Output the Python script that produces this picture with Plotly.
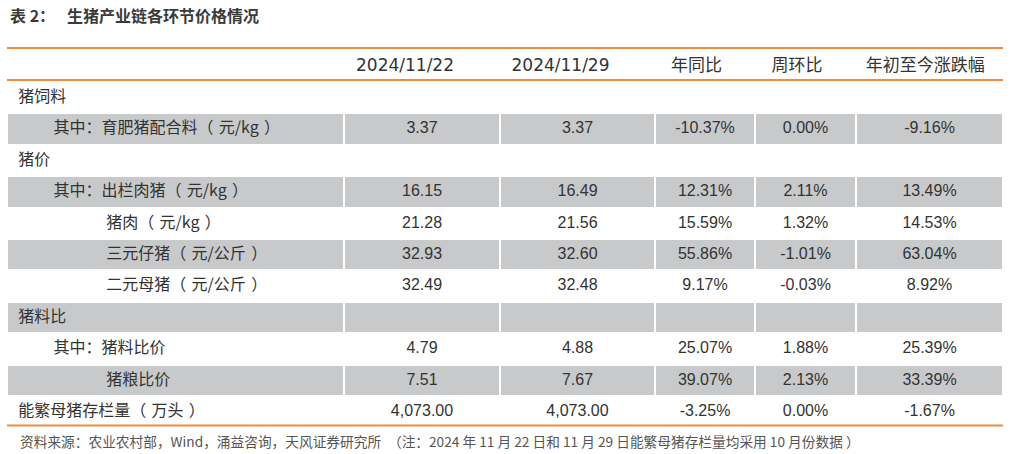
import plotly.graph_objects as go

# row labels (indent level: 0 = group, 1 = "其中：" item, 2 = sub item)
labels = ["猪饲料", "育肥猪配合料（元/kg）", "猪价", "出栏肉猪（元/kg）", "猪肉（元/kg）",
          "三元仔猪（元/公斤）", "二元母猪（元/公斤）", "猪料比", "猪料比价", "猪粮比价",
          "能繁母猪存栏量（万头）"]
levels = [0, 1, 0, 1, 2, 2, 2, 0, 1, 2, 0]

price_1122 = [None, 3.37, None, 16.15, 21.28, 32.93, 32.49, None, 4.79, 7.51, 4073.00]
price_1129 = [None, 3.37, None, 16.49, 21.56, 32.60, 32.48, None, 4.88, 7.67, 4073.00]
yoy = [None, -10.37, None, 12.31, 15.59, 55.86, 9.17, None, 25.07, 39.07, -3.25]
wow = [None, 0.00, None, 2.11, 1.32, -1.01, -0.03, None, 1.88, 2.13, 0.00]
ytd = [None, -9.16, None, 13.49, 14.53, 63.04, 8.92, None, 25.39, 33.39, -1.67]

headers = ["", "2024/11/22", "2024/11/29", "年同比", "周环比", "年初至今涨跌幅"]

W, H = 1011, 454
GREY = "#C8C9CB"
ORANGE = "#EF8B3C"
TXT = "#333333"


def fmt_num(v):
    return "" if v is None else f"{v:,.2f}"


def fmt_pct(v):
    return "" if v is None else f"{v:.2f}%"


def label_text(name, lvl):
    # the source leaves a little air inside the full-width brackets
    name = name.replace("（", "（\u2004").replace("）", "\u2004）")
    if lvl == 0:
        return "\u2009" + name
    if lvl == 1:
        return "\u3000\u3000\u2009\u2009其中：" + name
    return "\u3000\u3000\u3000\u3000\u3000\u2002\u2009" + name


col_label = [label_text(n, l) for n, l in zip(labels, levels)]
row_fill = [GREY if i % 2 == 1 else "white" for i in range(len(labels))]

# table geometry in pixels
left, right = 7, 1003
top, header_h, row_h = 48, 32, 31.4
bottom = top + header_h + row_h * len(labels)
shift = 2  # text sits a touch lower in the source
col_edges = [7, 344, 500, 655, 755, 856, 1003]
col_widths = [b - a for a, b in zip(col_edges[:-1], col_edges[1:])]

# header text is set slightly left of the cell centre in the source
header_txt = [headers[0]] + [h + pad for h, pad in zip(headers[1:],
              ["\u2003\u2003", "\u2003\u2003", "\u2003", "\u2003", "\u2002"])]

fig = go.Figure(go.Table(
    domain=dict(x=[left / W, right / W],
                y=[1 - (bottom + shift) / H, 1 - (top + shift) / H]),
    columnwidth=col_widths,
    header=dict(
        values=header_txt,
        height=header_h,
        align="center",
        fill_color="white",
        line=dict(color="white", width=1),
        font=dict(family="DejaVu Sans, Noto Sans CJK SC", size=17, color=TXT),
    ),
    cells=dict(
        values=[col_label,
                [fmt_num(v) for v in price_1122],
                [fmt_num(v) for v in price_1129],
                [fmt_pct(v) for v in yoy],
                [fmt_pct(v) for v in wow],
                [fmt_pct(v) for v in ytd]],
        height=row_h,
        align=["left", "center", "center", "center", "center", "center"],
        fill_color=[row_fill] * 6,
        line=dict(color="white", width=2),
        font=dict(family=["Noto Sans CJK SC"] + ["Liberation Sans Narrow, Liberation Sans"] * 5,
                  size=16, color=TXT),
    ),
))

# orange rules: top of header, under header, bottom of table
for yy in [top, top + header_h, bottom]:
    fig.add_shape(type="line", xref="paper", yref="paper",
                  x0=left / W, x1=right / W, y0=1 - yy / H, y1=1 - yy / H,
                  line=dict(color=ORANGE, width=2), layer="above")

fig.add_annotation(text="<b>表 2：\u2002\u2005生猪产业链各环节价格情况</b>", xref="paper", yref="paper",
                   x=8 / W, y=1 - 15 / H, xanchor="left", yanchor="middle", showarrow=False,
                   font=dict(family="Noto Sans CJK SC", size=16, color="#3a3a3a"))
fig.add_annotation(text="资料来源：农业农村部，Wind，涌益咨询，天风证券研究所　（注：2024 年 11 月 22 日和 11 月 29 日能繁母猪存栏量均采用 10 月份数据 ）",
                   xref="paper", yref="paper", x=18 / W, y=1 - 441 / H,
                   xanchor="left", yanchor="middle", showarrow=False,
                   font=dict(family="Noto Sans CJK SC", size=13.7, color="#555555"))

fig.update_layout(width=W, height=H, margin=dict(l=0, r=0, t=0, b=0),
                  paper_bgcolor="white", plot_bgcolor="white")

fig.write_html("out.html", config={"displayModeBar": False},
               post_script="document.body.style.margin='0';")
